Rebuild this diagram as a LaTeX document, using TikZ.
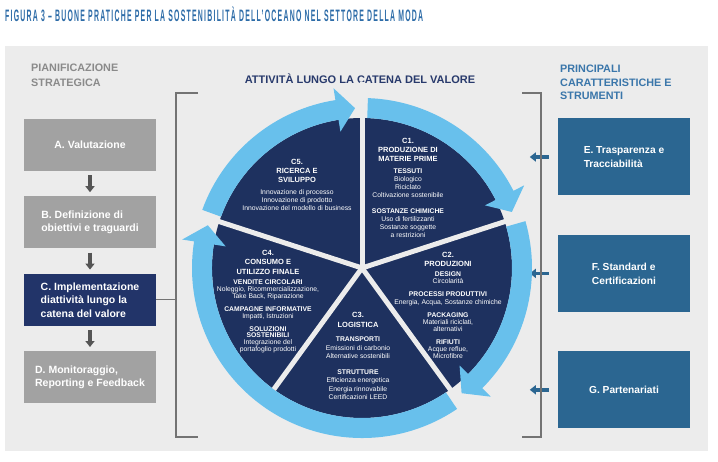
\documentclass[tikz,border=0pt]{standalone}
\usepackage{fontspec}
\setmainfont{Liberation Sans}
\usepackage{graphicx}
\usetikzlibrary{arrows.meta,positioning}

\definecolor{panel}{RGB}{236,236,236}
\definecolor{boxgray}{RGB}{162,162,162}
\definecolor{boxnavy}{RGB}{34,52,105}
\definecolor{pienavy}{RGB}{30,49,95}
\definecolor{ringblue}{RGB}{104,192,236}
\definecolor{steel}{RGB}{43,102,145}
\definecolor{headblue}{RGB}{58,118,170}
\definecolor{titleblue}{RGB}{45,108,168}
\definecolor{headgray}{RGB}{138,138,138}
\definecolor{headnavy}{RGB}{40,58,108}
\definecolor{arrowgray}{RGB}{85,85,85}
\definecolor{bracketgray}{RGB}{115,115,115}

\newcommand{\segttl}[1]{{\fontsize{7.5}{9}\selectfont\bfseries #1}}

\begin{document}
\begin{tikzpicture}[
      x=1pt, y=-1pt,
      node distance=25pt,
      box/.style={minimum width=132pt, minimum height=52pt, inner sep=0pt, text=white, align=left, font=\fontsize{10.5}{13.5}\selectfont\bfseries},
      toolbox/.style={fill=steel, minimum width=132pt, minimum height=77pt, inner sep=0pt, text=white, align=left, font=\fontsize{10.2}{14}\selectfont\bfseries},
      downarr/.style={draw=arrowgray, line width=3.5pt, -{Triangle[width=9pt,length=6pt]}},
      leftarr/.style={draw=steel, line width=3.5pt, -{Triangle[width=9pt,length=6pt]}},
      bracket/.style={draw=bracketgray, line width=1.1pt},
      divider/.style={draw=panel, line width=5pt},
      seg/.style={text=white, align=center, inner sep=0pt, anchor=north, font=\fontsize{6.8}{8}\selectfont}
    ]
    \fill[white] (0,0) rectangle (718,460);
    \fill[panel] (5,46) rectangle (708,451);

    % Title
    \node[anchor=base west, inner sep=0pt, text=titleblue] (title) at (5,21.5)
      {\resizebox{418pt}{\height}{\fontsize{16.5}{17}\selectfont\bfseries\addfontfeature{LetterSpace=18}FIGURA 3 – BUONE PRATICHE PER LA SOSTENIBILITÀ DELL'OCEANO NEL SETTORE DELLA MODA}};

    % Left column: planning steps
    \node[anchor=north west, inner sep=0pt, align=left, text=headgray, font=\fontsize{10.8}{14.4}\selectfont\bfseries] (planhead) at (31,64.2) {PIANIFICAZIONE\\STRATEGICA};
    \node[box, fill=boxgray] (boxA) at (90,145) {A. Valutazione};
    \node[box, fill=boxgray, below=of boxA] (boxB) {B. Definizione di\\obiettivi e traguardi};
    \node[box, fill=boxnavy, below=of boxB] (boxC) {C. Implementazione\\diattività lungo la\\catena del valore};
    \node[box, fill=boxgray, below=of boxC] (boxD) {D. Monitoraggio,\\Reporting e Feedback};

    \draw[downarr] ([yshift=-4pt]boxA.south) -- ([yshift=4pt]boxB.north);
    \draw[downarr] ([yshift=-4pt]boxB.south) -- ([yshift=4pt]boxC.north);
    \draw[downarr] ([yshift=-4pt]boxC.south) -- ([yshift=4pt]boxD.north);

    % Right column: tools
    \node[anchor=north west, inner sep=0pt, align=left, text=headblue, font=\fontsize{10.8}{13.5}\selectfont\bfseries] (toolhead) at (560,65.2) {PRINCIPALI\\CARATTERISTICHE E\\STRUMENTI};
    \node[toolbox] (boxE) at (624,157) {E. Trasparenza e\\Tracciabilità};
    \node[toolbox, below=39pt of boxE] (boxF) {F. Standard e\\Certificazioni};
    \node[toolbox, below=39pt of boxF] (boxG) {G. Partenariati};

    \draw[leftarr] ([xshift=-9pt]boxE.west) -- ++(-19,0);
    \draw[leftarr] ([xshift=-9pt]boxF.west) -- ++(-19,0);
    \draw[leftarr] ([xshift=-9pt]boxG.west) -- ++(-19,0);

    % Brackets round the value chain
    \coordinate (ltop) at (198,93);
    \coordinate (lbot) at (198,437);
    \coordinate (lspine) at (176,302);
    \coordinate (rtop) at (522,93);
    \coordinate (rbot) at (522,437);
    \draw[bracket] (ltop) -- ++(-22,0) |- (lbot);
    \draw[bracket] (rtop) -- ++(19,0) |- (rbot);
    \draw[bracket] (boxC.east) -- (boxC.east -| lspine);

    \node[text=headnavy, font=\fontsize{11}{12}\selectfont\bfseries] (chainhead) at (360,79) {ATTIVITÀ LUNGO LA CATENA DEL VALORE};

    % Value chain wheel
    \begin{scope}[shift={(362,268)}, yscale=-1]
      \fill[pienavy] (0,0) circle (150);
      \foreach \s/\e [evaluate=\e as \b using \e+6.5] in {88/20.5, 16/-51.5, -56/-195.5, 160/92.5}
        \fill[ringblue] (\s:170) arc[start angle=\s, end angle=\b, radius=170] -- (\b:182) -- (\e:160) -- (\b:138) -- (\b:150) arc[start angle=\b, end angle=\s, radius=150] -- cycle;
      \foreach \a/\r in {90/186, 18/186, -54/186, -126/150, 162/186}
        \draw[divider] (0,0) -- (\a:\r);
    \end{scope}

    \node[seg] (c5) at (297,159) {\segttl{C5.}\\[1pt]\segttl{RICERCA E}\\[1pt]\segttl{SVILUPPO}\\[4pt]Innovazione di processo\\Innovazione di prodotto\\Innovazione del modello di business};
    \node[seg] (c1) at (408,138) {\segttl{C1.}\\[1pt]\segttl{PRODUZIONE DI}\\[1pt]\segttl{MATERIE PRIME}\\[4pt]\textbf{TESSUTI}\\Biologico\\Riciclato\\Coltivazione sostenibile\\[8pt]\textbf{SOSTANZE CHIMICHE}\\Uso di fertilizzanti\\Sostanze soggette\\a restrizioni};
    \node[seg] (c2) at (448,252) {\segttl{C2.}\\[1pt]\segttl{PRODUZIONI}\\[2pt]\textbf{DESIGN}\\[-1pt]Circolarità\\[5pt]\textbf{PROCESSI PRODUTTIVI}\\Energia, Acqua, Sostanze chimiche\\[5pt]\textbf{PACKAGING}\\[-1pt]Materiali riciclati,\\[-1pt]alternativi\\[5pt]\textbf{RIFIUTI}\\[-1pt]Acque reflue,\\[-1pt]Microfibre};
    \node[seg] (c3) at (358,312) {\segttl{C3.}\\[2pt]\segttl{LOGISTICA}\\[6pt]\textbf{TRANSPORTI}\\[1pt]Emissioni di carbonio\\Alternative sostenibili\\[8pt]\textbf{STRUTTURE}\\Efficienza energetica\\[1pt]Energia rinnovabile\\Certificazioni LEED};
    \node[seg] (c4) at (268,250) {\segttl{C4.}\\[1pt]\segttl{CONSUMO E}\\[2pt]\segttl{UTILIZZO FINALE}\\[2pt]\textbf{VENDITE CIRCOLARI}\\[-1pt]Noleggio, Ricommercializzazione,\\[-1pt]Take Back, Riparazione\\[5pt]\textbf{CAMPAGNE INFORMATIVE}\\[-1pt]Impatti, Istruzioni\\[5pt]\textbf{SOLUZIONI}\\[-2pt]\textbf{SOSTENIBILI}\\[-1pt]Integrazione del\\[-1pt]portafoglio prodotti};
  \end{tikzpicture}
\end{document}
